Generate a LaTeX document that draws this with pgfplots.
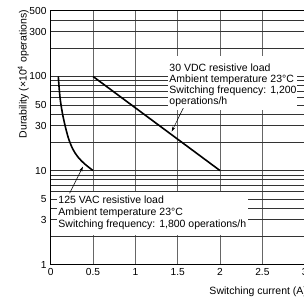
\documentclass[border=0pt]{standalone}
\usepackage{fontspec}
\setmainfont{Liberation Sans}
\usepackage{pgfplots}
\pgfplotsset{compat=1.18}
\usetikzlibrary{arrows.meta}
\begin{document}
\begin{tikzpicture}
\begin{axis}[
  at={(0,0)}, anchor=south west,
  scale only axis, width=254bp, height=254bp,
  xmin=0, xmax=3, ymin=1, ymax=500, ymode=log,
  xtick={0,0.5,1,1.5,2,2.5,3},
  xticklabels={0,0.5,1,1.5,2,2.5,3},
  ytick={1,2,3,4,5,6,7,8,9,10,20,30,40,50,60,70,80,90,100,200,300,400,500},
  yticklabels={1,,3,,5,,,,,10,,30,,50,,,,,100,,300,,500},
  minor xtick={}, minor ytick={},
  xmajorgrids=true, ymajorgrids=true,
  major x grid style={black!60, line width=0.9bp},
  major y grid style={black!80, line width=0.6bp},
  major tick length=0pt,
  axis line style={black, line width=0.8bp},
  /pgf/number format/assume math mode=true,
  tick label style={font=\fontsize{10.2bp}{12bp}\selectfont, inner sep=0pt},
  xticklabel style={anchor=north, yshift=-3.4bp},
  yticklabel style={anchor=east, xshift=-4bp},
  xlabel={Switching current (A)},
  ylabel={Durability (×10\textsuperscript{4} operations)},
  label style={font=\fontsize{10.5bp}{12bp}\selectfont},
  xlabel style={at={(rel axis cs:0.6244,-0.119)}, anchor=base west, inner sep=0pt},
  ylabel style={at={(rel axis cs:-0.1079,0.7507)}, anchor=center, inner sep=0pt},
]
\addplot[black, line width=1.6bp, smooth] coordinates {(0.09,100) (0.1,75) (0.115,55) (0.14,40) (0.17,30) (0.21,22) (0.26,17) (0.32,14) (0.4,11.8) (0.5,10)};
\addplot[black, line width=1.6bp] coordinates {(0.5,100) (2,10)};

\fill[white] (rel axis cs:0.4618,0.6074) rectangle (rel axis cs:0.9697,0.8233);
\fill[white] (rel axis cs:0.0236,0.1166) rectangle (rel axis cs:0.778,0.2874);

\begin{scope}[every node/.style={anchor=base west, inner sep=0pt, font=\fontsize{10.5bp}{12bp}\selectfont}]
\node at (rel axis cs:0.4669,0.7617) {30 VDC resistive load};
\node at (rel axis cs:0.4669,0.7173) {Ambient temperature 23°C};
\node at (rel axis cs:0.4669,0.6733) {Switching frequency: 1,200};
\node at (rel axis cs:0.4669,0.6294) {operations/h};
\node at (rel axis cs:0.0299,0.2403) {125 VAC resistive load};
\node at (rel axis cs:0.0299,0.1932) {Ambient temperature 23°C};
\node at (rel axis cs:0.0299,0.1468) {Switching frequency: 1,800 operations/h};
\end{scope}

\draw[black, line width=0.5bp, -{Stealth[length=5bp,width=3bp]}] (axis cs:1.566,46.1) -- (axis cs:1.429,26.0);
\draw[black, line width=0.5bp, -{Stealth[length=5bp,width=3bp]}] (axis cs:0.224,5.75) -- (axis cs:0.381,11.03);
\end{axis}
\pgfresetboundingbox
\path (-50.7bp,-32.3bp) rectangle (253.3bp,264.7bp);
\end{tikzpicture}
\end{document}
